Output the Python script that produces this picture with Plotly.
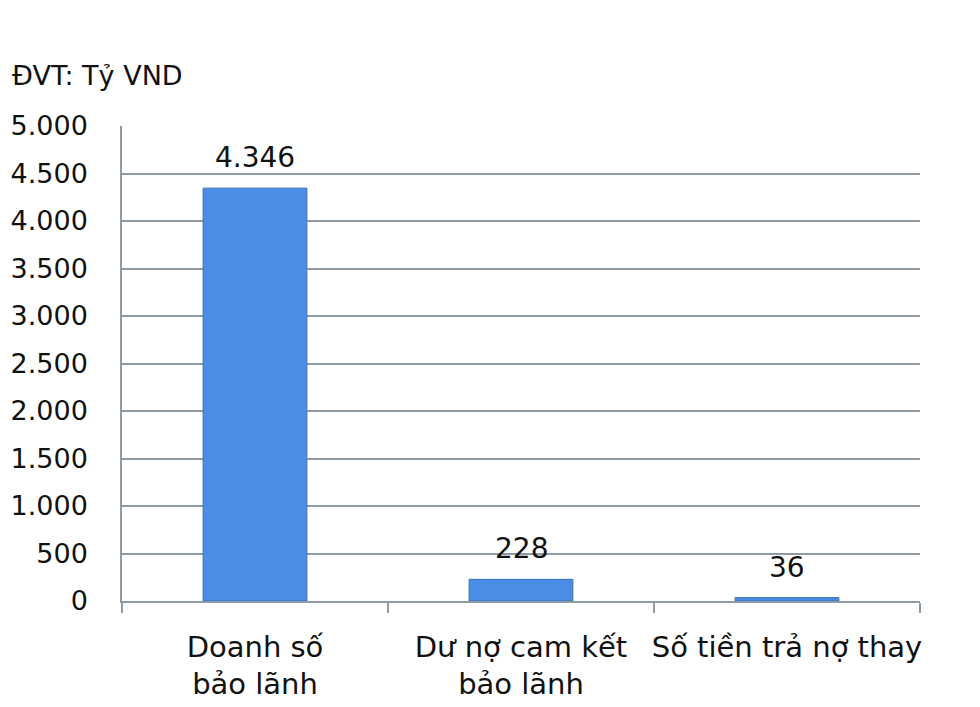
import plotly.graph_objects as go

categories = ["Doanh số<br>bảo lãnh", "Dư nợ cam kết<br>bảo lãnh", "Số tiền trả nợ thay"]
values = [4346, 228, 36]
y_ticks = [0, 500, 1000, 1500, 2000, 2500, 3000, 3500, 4000, 4500, 5000]

FONT = "DejaVu Sans"
GRID = "#8e9ba6"

fig = go.Figure(go.Bar(
    x=categories, y=values,
    marker=dict(color="#4a8de6", line=dict(color="#3b6fb5", width=1)),
    hoverinfo="x+y",
))

annotations = [dict(text="ĐVT: Tỷ VND", xref="paper", yref="paper",
                    x=-0.1404, y=1.107, xanchor="left", yanchor="middle",
                    showarrow=False, font=dict(family=FONT, size=27, color="#111"))]
for c, v in zip(categories, values):
    annotations.append(dict(x=c, y=v, xref="x", yref="y", text=f"{v:,}".replace(",", "."),
                            showarrow=False, yanchor="bottom", yshift=12,
                            font=dict(family=FONT, size=28, color="#111")))

fig.update_layout(
    width=980, height=707,
    margin=dict(l=114, r=68, t=118, b=114, autoexpand=False),
    paper_bgcolor="white", plot_bgcolor="white",
    separators=",.",
    bargap=0.61,
    showlegend=False,
    font=dict(family=FONT, color="#111"),
    annotations=annotations,
)
fig.update_yaxes(range=[0, 5000], tickvals=y_ticks, tickformat=",",
                 showgrid=True, gridcolor=GRID, gridwidth=1.5,
                 showline=True, linecolor=GRID, linewidth=1.5,
                 zeroline=False, ticks="", ticklabelstandoff=27, automargin=False,
                 tickfont=dict(family=FONT, size=27, color="#111"))
fig.update_xaxes(showline=True, linecolor=GRID, linewidth=1.5,
                 ticks="outside", tickson="boundaries", ticklen=10,
                 tickcolor=GRID, tickwidth=1.5, automargin=False,
                 ticklabelstandoff=19, tickangle=0,
                 tickfont=dict(family=FONT, size=29, color="#111"))

fig.write_html("out.html")
